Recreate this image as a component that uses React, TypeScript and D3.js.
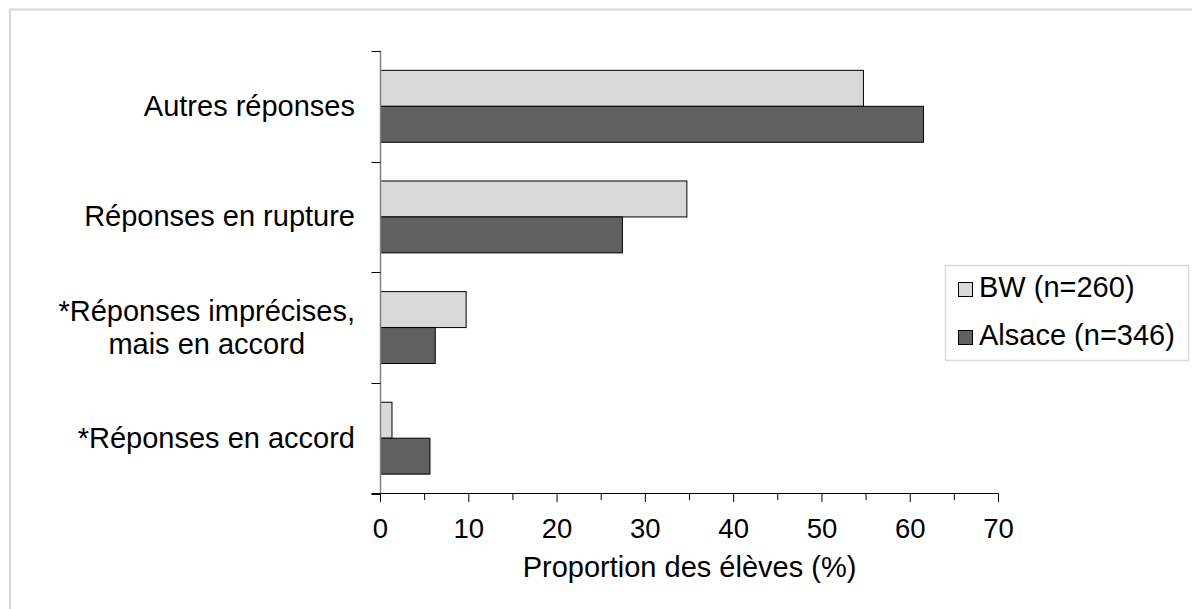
import React, { useEffect, useRef } from "react";
import * as d3 from "d3";

const categories: string[][] = [
  ["Autres réponses"],
  ["Réponses en rupture"],
  ["*Réponses imprécises,", "mais en accord"],
  ["*Réponses en accord"],
];
const seriesNames = ["BW (n=260)", "Alsace (n=346)"];
const bwValues = [54.7, 34.7, 9.7, 1.3];
const alsaceValues = [61.5, 27.4, 6.2, 5.6];
const xTicks = [0, 10, 20, 30, 40, 50, 60, 70];
const xMinorTicks = [5, 15, 25, 35, 45, 55, 65];
const xTitle = "Proportion des élèves (%)";

const W = 1192;
const H = 609;
const FONT = "'Liberation Sans', Arial, sans-serif";
const colors = ["#d9d9d9", "#606060"];

export default function App() {
  const ref = useRef<SVGSVGElement>(null);

  useEffect(() => {
    const svg = d3.select(ref.current);
    svg.selectAll("*").remove();

    svg
      .append("rect")
      .attr("x", 10)
      .attr("y", 9.5)
      .attr("width", 1300)
      .attr("height", 800)
      .attr("fill", "none")
      .attr("stroke", "#d6d6d6")
      .attr("stroke-width", 2);

    const x = d3.scaleLinear().domain([0, 70]).range([380.5, 998.5]);
    const idx = categories.map((_, i) => String(i));
    const y = d3.scaleBand().domain(idx).range([51, 493.5]).padding(0);
    const bw = y.bandwidth();
    const inner = d3
      .scaleBand()
      .domain(["0", "1"])
      .range([bw * 0.175, bw * 0.825])
      .padding(0);

    const series = [bwValues, alsaceValues];
    series.forEach((vals, s) => {
      svg
        .append("g")
        .selectAll("rect")
        .data(vals)
        .join("rect")
        .attr("x", x(0))
        .attr("y", (_, i) => (y(String(i)) as number) + (inner(String(s)) as number))
        .attr("width", (d) => x(d) - x(0))
        .attr("height", inner.bandwidth())
        .attr("fill", colors[s])
        .attr("stroke", "#000")
        .attr("stroke-width", 1);
    });

    const ya = svg.append("g");
    ya.append("line")
      .attr("x1", x(0))
      .attr("x2", x(0))
      .attr("y1", 51)
      .attr("y2", 493.5)
      .attr("stroke", "#808080")
      .attr("stroke-width", 1.5);
    const bounds = idx.map((k) => y(k) as number).concat([493.5]);
    ya.selectAll("line.t")
      .data(bounds)
      .join("line")
      .attr("class", "t")
      .attr("x1", x(0) - 9)
      .attr("x2", x(0))
      .attr("y1", (d) => Math.round(d) + 0.5)
      .attr("y2", (d) => Math.round(d) + 0.5)
      .attr("stroke", "#000")
      .attr("stroke-width", 1);

    const xa = svg.append("g");
    xa.append("line")
      .attr("x1", x(0) - 9)
      .attr("x2", x(70))
      .attr("y1", 493.5)
      .attr("y2", 493.5)
      .attr("stroke", "#000")
      .attr("stroke-width", 1);
    xa.selectAll("line.maj")
      .data(xTicks)
      .join("line")
      .attr("class", "maj")
      .attr("x1", (d) => x(d))
      .attr("x2", (d) => x(d))
      .attr("y1", 493.5)
      .attr("y2", 502)
      .attr("stroke", "#000");
    xa.selectAll("line.min")
      .data(xMinorTicks)
      .join("line")
      .attr("class", "min")
      .attr("x1", (d) => x(d))
      .attr("x2", (d) => x(d))
      .attr("y1", 493.5)
      .attr("y2", 500)
      .attr("stroke", "#000");
    xa.selectAll("text")
      .data(xTicks)
      .join("text")
      .attr("x", (d) => x(d))
      .attr("y", 538)
      .attr("text-anchor", "middle")
      .attr("font-family", FONT)
      .attr("font-size", 27.5)
      .attr("fill", "#000")
      .text((d) => String(d));
    svg
      .append("text")
      .attr("x", (x(0) + x(70)) / 2)
      .attr("y", 577)
      .attr("text-anchor", "middle")
      .attr("font-family", FONT)
      .attr("font-size", 29)
      .attr("fill", "#000")
      .text(xTitle);

    const labelRight = 355;
    const lineH = 33;
    categories.forEach((lines, i) => {
      const cy = (y(String(i)) as number) + bw / 2;
      const t = svg
        .append("text")
        .attr("font-family", FONT)
        .attr("font-size", 29)
        .attr("fill", "#000")
        .attr("text-anchor", "middle");
      const n = lines.length;
      const tspans = lines.map((l, j) =>
        t
          .append("tspan")
          .attr("y", cy + 9.5 + (j - (n - 1) / 2) * lineH)
          .text(l)
      );
      const widths = tspans.map((ts) => (ts.node() as SVGTSpanElement).getComputedTextLength());
      const maxW = Math.max(...widths);
      const cx = labelRight - maxW / 2;
      tspans.forEach((ts) => ts.attr("x", cx));
    });

    const lg = svg.append("g");
    lg.append("rect")
      .attr("x", 945.5)
      .attr("y", 265.5)
      .attr("width", 243)
      .attr("height", 95)
      .attr("fill", "#fff")
      .attr("stroke", "#d9d9d9")
      .attr("stroke-width", 1.5);
    seriesNames.forEach((name, s) => {
      const by = 282 + s * 48;
      lg.append("rect")
        .attr("x", 958.5)
        .attr("y", by + 0.5)
        .attr("width", 14)
        .attr("height", 14)
        .attr("fill", colors[s])
        .attr("stroke", "#000")
        .attr("stroke-width", 1);
      lg.append("text")
        .attr("x", 979)
        .attr("y", by + 15)
        .attr("font-family", FONT)
        .attr("font-size", 29)
        .attr("fill", "#000")
        .text(name);
    });
  }, []);

  return (
    <svg
      ref={ref}
      width={W}
      height={H}
      style={{ position: "absolute", left: 0, top: 0, background: "#fff" }}
    />
  );
}
